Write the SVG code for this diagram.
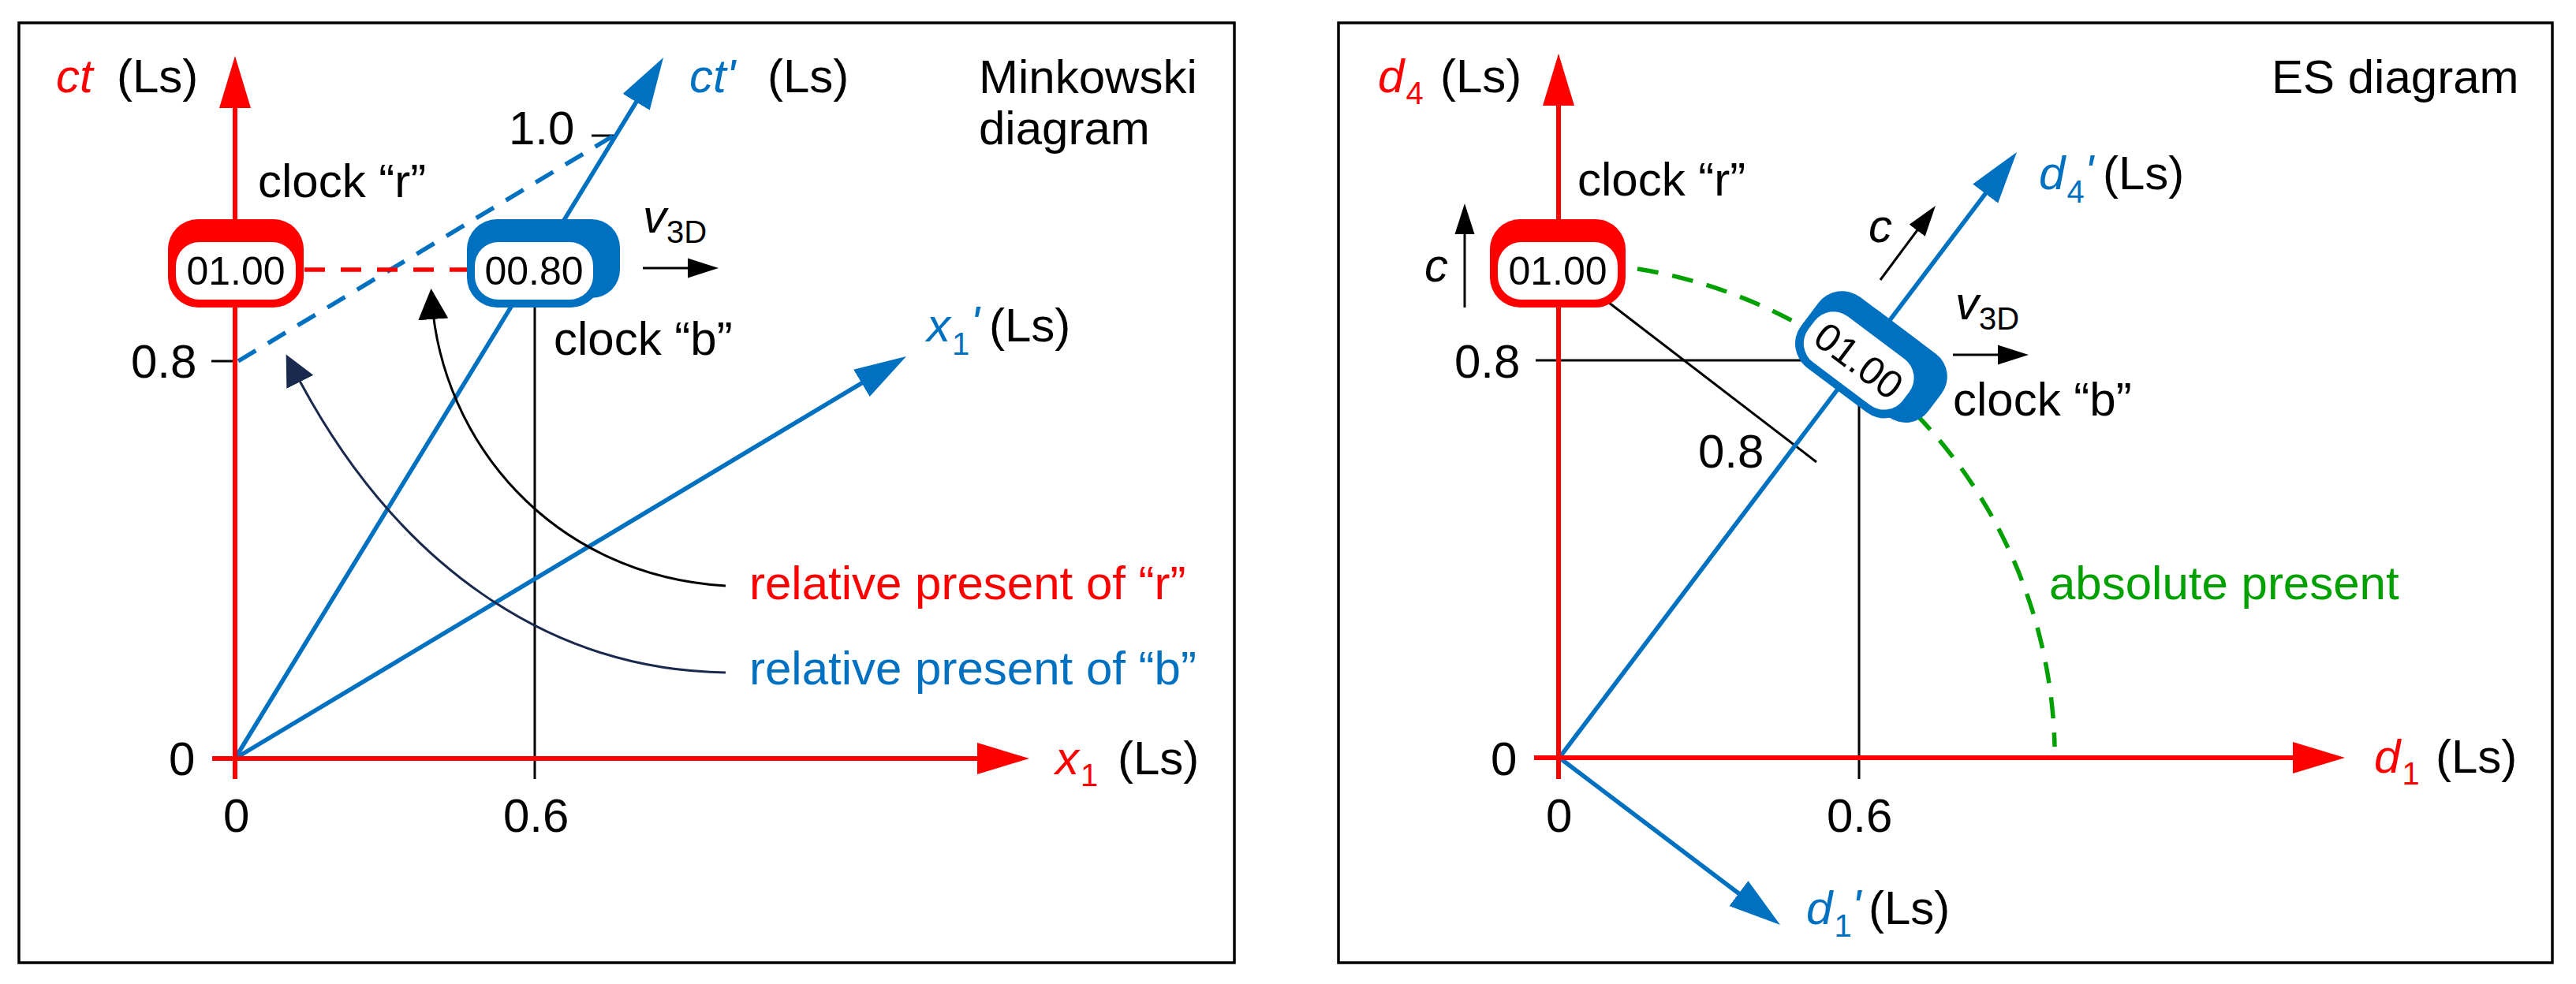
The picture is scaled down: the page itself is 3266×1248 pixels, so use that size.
<svg xmlns="http://www.w3.org/2000/svg" xmlns:xlink="http://www.w3.org/1999/xlink" width="3266" height="1248" viewBox="0 0 3266 1248">
<style>
text{font-family:"Liberation Sans",Arial,sans-serif;font-size:60px;fill:#000}
.it{font-style:italic}
.red{fill:#ff0000}
.blue{fill:#0070c0}
.green{fill:#00a000}
.sub{font-size:40px}
.clk{font-size:50px;text-anchor:middle}
.frame{fill:none;stroke:#000;stroke-width:3.5}
.axR{stroke:#ff0000;stroke-width:6;fill:none}
.axB{stroke:#0070c0;stroke-width:5.5;fill:none}
.thin{stroke:#000;stroke-width:3;fill:none}
.dR{stroke:#ff0000;stroke-width:5.5;stroke-dasharray:26 20;fill:none}
.dB{stroke:#0070c0;stroke-width:5.5;stroke-dasharray:26 18;fill:none}
.dG{stroke:#00a000;stroke-width:5.5;stroke-dasharray:27 18;fill:none}
.cvK{stroke:#000;stroke-width:3;fill:none}
.cvN{stroke:#1a2a4e;stroke-width:3;fill:none}
</style>
<defs>
<marker id="arR" markerUnits="userSpaceOnUse" viewBox="0 -22 70 44" markerWidth="70" markerHeight="44" refX="40" refY="0" orient="auto"><path d="M0,-20 L66,0 L0,20 z" fill="#ff0000"/></marker>
<marker id="arB" markerUnits="userSpaceOnUse" viewBox="0 -22 70 44" markerWidth="70" markerHeight="44" refX="40" refY="0" orient="auto"><path d="M0,-20 L66,0 L0,20 z" fill="#0070c0"/></marker>
<marker id="arK" markerUnits="userSpaceOnUse" viewBox="0 -14 42 28" markerWidth="42" markerHeight="28" refX="25" refY="0" orient="auto"><path d="M0,-12.5 L39,0 L0,12.5 z" fill="#000"/></marker>
<marker id="arC" markerUnits="userSpaceOnUse" viewBox="0 -20 42 40" markerWidth="42" markerHeight="40" refX="25" refY="0" orient="auto"><path d="M0,-19 L39,0 L0,19 z" fill="#000"/></marker>
<marker id="arN" markerUnits="userSpaceOnUse" viewBox="0 -20 42 40" markerWidth="42" markerHeight="40" refX="25" refY="0" orient="auto"><path d="M0,-19 L39,0 L0,19 z" fill="#1a2a4e"/></marker>
<g id="clockRed">
<rect x="-86" y="-65" width="172" height="112" rx="38" fill="#ff0000"/>
<rect x="-76" y="-36" width="152" height="73" rx="30" fill="#fff"/>
</g>
<g id="clockBlue">
<rect x="-85" y="-65" width="170" height="112" rx="38" fill="#0070c0"/>
<rect x="-55" y="-65" width="164" height="100" rx="36" fill="#0070c0"/>
<rect x="-75" y="-36" width="150" height="73" rx="30" fill="#fff"/>
</g>
</defs>
<rect width="3266" height="1248" fill="#fff"/>

<g id="frames">
<rect class="frame" x="24" y="29" width="1541" height="1192"/>
<rect class="frame" x="1697" y="29" width="1539" height="1192"/>
</g>

<g id="connectors">
<line class="thin" x1="678" y1="342" x2="678" y2="988"/>
<line class="thin" x1="268" y1="458" x2="297" y2="458"/>
<line class="thin" x1="750" y1="172" x2="778" y2="172"/>
<line class="axB" x1="298" y1="962" x2="827.5" y2="95.2" marker-end="url(#arB)"/>
<line class="axB" x1="298" y1="962" x2="1126.7" y2="465.4" marker-end="url(#arB)"/>
<line class="axR" x1="298" y1="988" x2="298" y2="97" marker-end="url(#arR)"/>
<line class="axR" x1="269" y1="962" x2="1279" y2="962" marker-end="url(#arR)"/>
<line class="dB" x1="302" y1="458" x2="778" y2="172"/>
<line class="dR" x1="386" y1="342" x2="592" y2="342"/>
<path class="cvK" d="M920,743 C700,730 560,560 547.5,380" marker-end="url(#arC)"/>
<path class="cvN" d="M920,853 C700,850 500,720 369,462" marker-end="url(#arN)"/>
<line class="thin" x1="815" y1="340" x2="897" y2="340" marker-end="url(#arK)"/>
<line class="thin" x1="2357" y1="457" x2="2357" y2="988"/>
<line class="thin" x1="1947" y1="457" x2="2357" y2="457"/>
<line class="thin" x1="2040" y1="384" x2="2303" y2="586"/>
<path class="dG" d="M2076,341 A628,628 0 0 1 2605,947"/>
<line class="axB" x1="1977" y1="961" x2="2541.3" y2="213.7" marker-end="url(#arB)"/>
<line class="axB" x1="1977" y1="961" x2="2236.3" y2="1157.3" marker-end="url(#arB)"/>
<line class="axR" x1="1976" y1="988" x2="1976" y2="94" marker-end="url(#arR)"/>
<line class="axR" x1="1945" y1="961" x2="2947" y2="961" marker-end="url(#arR)"/>
<line class="thin" x1="1857" y1="390" x2="1857" y2="272" marker-end="url(#arK)"/>
<line class="thin" x1="2384" y1="355" x2="2445.6" y2="272.2" marker-end="url(#arK)"/>
<line class="thin" x1="2476" y1="450" x2="2558" y2="450" marker-end="url(#arK)"/>
</g>

<g id="clock-r-left">
<use xlink:href="#clockRed" href="#clockRed" transform="translate(299,343)"/>
<text class="clk" x="299" y="361">01.00</text>
</g>
<g id="clock-b-left">
<use xlink:href="#clockBlue" href="#clockBlue" transform="translate(677,343)"/>
<text class="clk" x="677" y="361">00.80</text>
</g>
<g id="clock-r-right">
<use xlink:href="#clockRed" href="#clockRed" transform="translate(1975,343)"/>
<text class="clk" x="1975" y="361">01.00</text>
</g>
<g id="clock-b-right" transform="translate(2357,457) rotate(36.87)">
<use xlink:href="#clockBlue" href="#clockBlue"/>
<text class="clk" x="0" y="18">01.00</text>
</g>

<g id="labels-left">
<text x="71" y="117" class="it red">ct</text>
<text x="148" y="117">(Ls)</text>
<text x="874" y="117" class="it blue">ct'</text>
<text x="973" y="117">(Ls)</text>
<text x="1241" y="118">Minkowski</text>
<text x="1241" y="183">diagram</text>
<text x="645" y="183">1.0</text>
<text x="327" y="250">clock “r”</text>
<text x="815" y="295"><tspan class="it">v</tspan><tspan class="sub" dy="13">3D</tspan></text>
<text x="702" y="450">clock “b”</text>
<text x="1175" y="433" class="blue"><tspan class="it">x</tspan><tspan class="sub" dx="2" dy="17">1</tspan><tspan class="it" dx="1" dy="-20">'</tspan></text>
<text x="1254" y="433">(Ls)</text>
<text x="166" y="479">0.8</text>
<text x="950" y="760" class="red">relative present of “r”</text>
<text x="950" y="868" class="blue">relative present of “b”</text>
<text x="214" y="983">0</text>
<text x="283" y="1055">0</text>
<text x="638" y="1055">0.6</text>
<text x="1338" y="982" class="red"><tspan class="it">x</tspan><tspan class="sub" dx="2" dy="15">1</tspan></text>
<text x="1417" y="982">(Ls)</text>
</g>

<g id="labels-right">
<text x="1747" y="117" class="red"><tspan class="it">d</tspan><tspan class="sub" dx="2" dy="15">4</tspan></text>
<text x="1826" y="117">(Ls)</text>
<text x="2880" y="118">ES diagram</text>
<text x="2000" y="248">clock “r”</text>
<text x="1806" y="357" class="it">c</text>
<text x="2369" y="307" class="it">c</text>
<text x="2585" y="240" class="blue"><tspan class="it">d</tspan><tspan class="sub" dx="2" dy="17">4</tspan><tspan class="it" dx="0" dy="-19">'</tspan></text>
<text x="2666" y="240">(Ls)</text>
<text x="2479" y="405"><tspan class="it">v</tspan><tspan class="sub" dy="13">3D</tspan></text>
<text x="2476" y="527">clock “b”</text>
<text x="1844" y="479">0.8</text>
<text x="2153" y="593">0.8</text>
<text x="2598" y="760" class="green">absolute present</text>
<text x="1890" y="983">0</text>
<text x="1960" y="1055">0</text>
<text x="2316" y="1055">0.6</text>
<text x="3010" y="980" class="red"><tspan class="it">d</tspan><tspan class="sub" dx="2" dy="15">1</tspan></text>
<text x="3088" y="980">(Ls)</text>
<text x="2290" y="1172" class="blue"><tspan class="it">d</tspan><tspan class="sub" dx="2" dy="16">1</tspan><tspan class="it" dx="0" dy="-18">'</tspan></text>
<text x="2369" y="1172">(Ls)</text>
</g>
</svg>
